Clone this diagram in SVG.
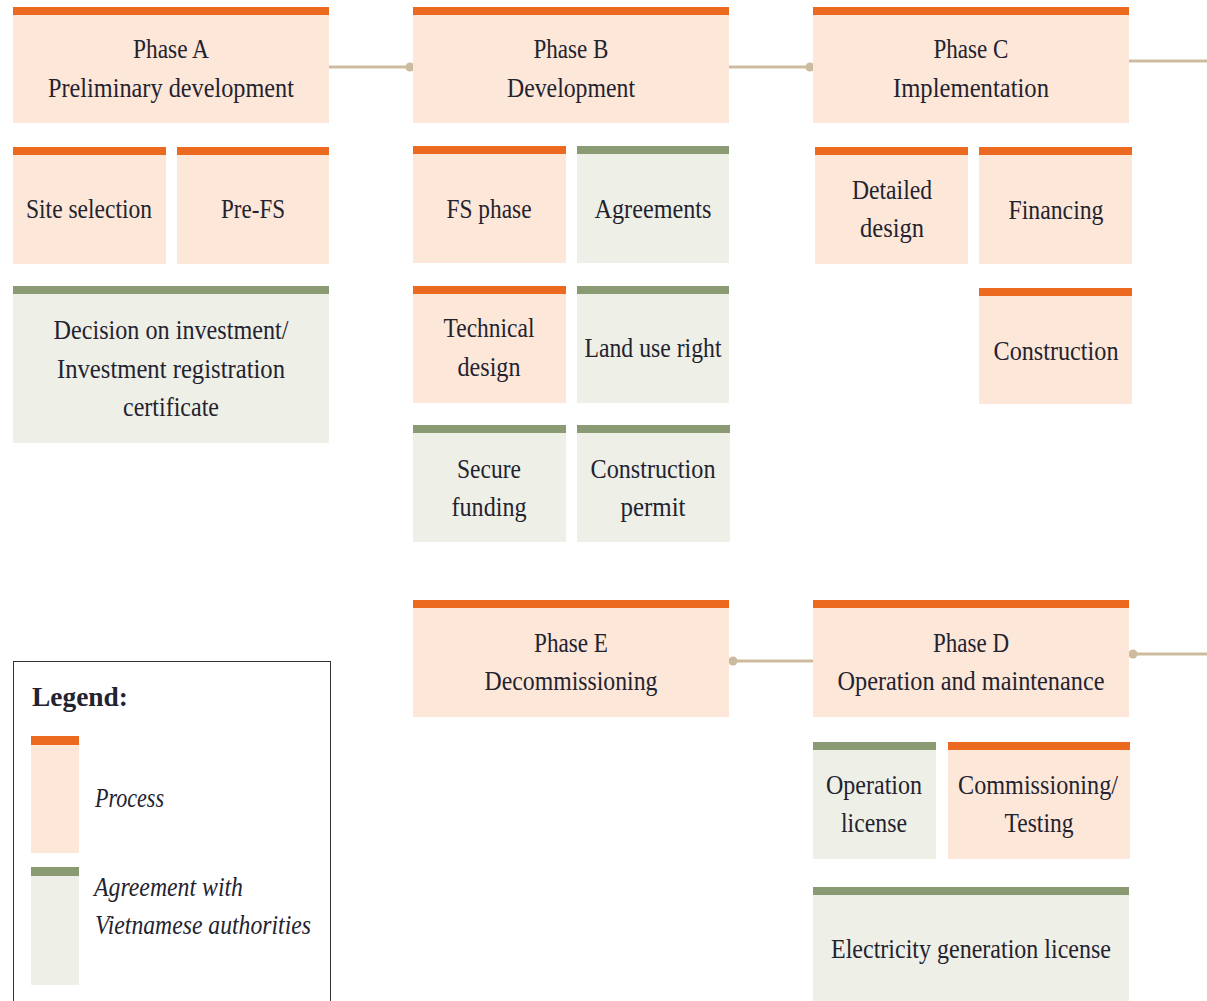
<svg xmlns="http://www.w3.org/2000/svg" width="1207" height="1001" viewBox="0 0 1207 1001">
<style>
.p{fill:#FDE7D9}.g{fill:#EEEFE7}.pb{fill:#EB6A1F}.gb{fill:#8A9B73}
text{font-family:"Liberation Serif","DejaVu Serif",serif;font-size:28px;fill:#23232F}
.c{text-anchor:middle}
.i{font-style:italic}
.b{font-weight:bold}
.ln{stroke:#CDBBA0;stroke-width:3;fill:none}
.dt{fill:#CDBBA0}
</style>
<rect width="1207" height="1001" fill="#fff"/>
<g id="connectors">
<line class="ln" x1="329" y1="67" x2="410" y2="67"/><circle class="dt" cx="410" cy="67" r="4.5"/>
<line class="ln" x1="729" y1="67" x2="810" y2="67"/><circle class="dt" cx="810" cy="67" r="4.5"/>
<line class="ln" x1="1129" y1="61" x2="1207" y2="61"/>
<line class="ln" x1="733" y1="661" x2="813" y2="661"/><circle class="dt" cx="733" cy="661" r="4.5"/>
<line class="ln" x1="1133" y1="654" x2="1207" y2="654"/><circle class="dt" cx="1133" cy="654" r="4.5"/>
</g>
<g id="phaseA"><rect class="p" x="13" y="7" width="316" height="116"/><rect class="pb" x="13" y="7" width="316" height="8"/>
<text class="c" x="171" y="58" textLength="76" lengthAdjust="spacingAndGlyphs">Phase A</text>
<text class="c" x="171" y="97" textLength="246" lengthAdjust="spacingAndGlyphs">Preliminary development</text></g>
<g id="phaseB"><rect class="p" x="413" y="7" width="316" height="116"/><rect class="pb" x="413" y="7" width="316" height="8"/>
<text class="c" x="571" y="58" textLength="75" lengthAdjust="spacingAndGlyphs">Phase B</text>
<text class="c" x="571" y="97" textLength="128" lengthAdjust="spacingAndGlyphs">Development</text></g>
<g id="phaseC"><rect class="p" x="813" y="7" width="316" height="116"/><rect class="pb" x="813" y="7" width="316" height="8"/>
<text class="c" x="971" y="58" textLength="75" lengthAdjust="spacingAndGlyphs">Phase C</text>
<text class="c" x="971" y="97" textLength="156" lengthAdjust="spacingAndGlyphs">Implementation</text></g>
<g id="siteSelection"><rect class="p" x="13" y="147" width="153" height="117"/><rect class="pb" x="13" y="147" width="153" height="8"/>
<text class="c" x="89" y="218" textLength="126" lengthAdjust="spacingAndGlyphs">Site selection</text></g>
<g id="preFS"><rect class="p" x="177" y="147" width="152" height="117"/><rect class="pb" x="177" y="147" width="152" height="8"/>
<text class="c" x="253" y="218" textLength="64" lengthAdjust="spacingAndGlyphs">Pre-FS</text></g>
<g id="decision"><rect class="g" x="13" y="286" width="316" height="157"/><rect class="gb" x="13" y="286" width="316" height="8"/>
<text class="c" x="171" y="339" textLength="235" lengthAdjust="spacingAndGlyphs">Decision on investment/</text>
<text class="c" x="171" y="378" textLength="228" lengthAdjust="spacingAndGlyphs">Investment registration</text>
<text class="c" x="171" y="416" textLength="96" lengthAdjust="spacingAndGlyphs">certificate</text></g>
<g id="fsPhase"><rect class="p" x="413" y="146" width="153" height="117"/><rect class="pb" x="413" y="146" width="153" height="8"/>
<text class="c" x="489" y="218" textLength="85" lengthAdjust="spacingAndGlyphs">FS phase</text></g>
<g id="agreements"><rect class="g" x="577" y="146" width="152" height="117"/><rect class="gb" x="577" y="146" width="152" height="8"/>
<text class="c" x="653" y="218" textLength="117" lengthAdjust="spacingAndGlyphs">Agreements</text></g>
<g id="technicalDesign"><rect class="p" x="413" y="286" width="153" height="117"/><rect class="pb" x="413" y="286" width="153" height="8"/>
<text class="c" x="489" y="337" textLength="91" lengthAdjust="spacingAndGlyphs">Technical</text>
<text class="c" x="489" y="376" textLength="63" lengthAdjust="spacingAndGlyphs">design</text></g>
<g id="landUseRight"><rect class="g" x="577" y="286" width="152" height="117"/><rect class="gb" x="577" y="286" width="152" height="8"/>
<text class="c" x="653" y="357" textLength="137" lengthAdjust="spacingAndGlyphs">Land use right</text></g>
<g id="secureFunding"><rect class="g" x="413" y="425" width="153" height="117"/><rect class="gb" x="413" y="425" width="153" height="8"/>
<text class="c" x="489" y="478" textLength="64" lengthAdjust="spacingAndGlyphs">Secure</text>
<text class="c" x="489" y="516" textLength="75" lengthAdjust="spacingAndGlyphs">funding</text></g>
<g id="constructionPermit"><rect class="g" x="577" y="425" width="153" height="117"/><rect class="gb" x="577" y="425" width="153" height="8"/>
<text class="c" x="653" y="478" textLength="125" lengthAdjust="spacingAndGlyphs">Construction</text>
<text class="c" x="653" y="516" textLength="65" lengthAdjust="spacingAndGlyphs">permit</text></g>
<g id="detailedDesign"><rect class="p" x="815" y="147" width="153" height="117"/><rect class="pb" x="815" y="147" width="153" height="8"/>
<text class="c" x="892" y="199" textLength="80" lengthAdjust="spacingAndGlyphs">Detailed</text>
<text class="c" x="892" y="237" textLength="64" lengthAdjust="spacingAndGlyphs">design</text></g>
<g id="financing"><rect class="p" x="979" y="147" width="153" height="117"/><rect class="pb" x="979" y="147" width="153" height="8"/>
<text class="c" x="1056" y="219" textLength="95" lengthAdjust="spacingAndGlyphs">Financing</text></g>
<g id="construction"><rect class="p" x="979" y="288" width="153" height="116"/><rect class="pb" x="979" y="288" width="153" height="8"/>
<text class="c" x="1056" y="360" textLength="125" lengthAdjust="spacingAndGlyphs">Construction</text></g>
<g id="phaseE"><rect class="p" x="413" y="600" width="316" height="117"/><rect class="pb" x="413" y="600" width="316" height="8"/>
<text class="c" x="571" y="652" textLength="74" lengthAdjust="spacingAndGlyphs">Phase E</text>
<text class="c" x="571" y="690" textLength="173" lengthAdjust="spacingAndGlyphs">Decommissioning</text></g>
<g id="phaseD"><rect class="p" x="813" y="600" width="316" height="117"/><rect class="pb" x="813" y="600" width="316" height="8"/>
<text class="c" x="971" y="652" textLength="76" lengthAdjust="spacingAndGlyphs">Phase D</text>
<text class="c" x="971" y="690" textLength="267" lengthAdjust="spacingAndGlyphs">Operation and maintenance</text></g>
<g id="operationLicense"><rect class="g" x="813" y="742" width="123" height="117"/><rect class="gb" x="813" y="742" width="123" height="8"/>
<text class="c" x="874" y="794" textLength="96" lengthAdjust="spacingAndGlyphs">Operation</text>
<text class="c" x="874" y="832" textLength="66" lengthAdjust="spacingAndGlyphs">license</text></g>
<g id="commissioning"><rect class="p" x="948" y="742" width="182" height="117"/><rect class="pb" x="948" y="742" width="182" height="8"/>
<text class="c" x="1038" y="794" textLength="160" lengthAdjust="spacingAndGlyphs">Commissioning/</text>
<text class="c" x="1039" y="832" textLength="69" lengthAdjust="spacingAndGlyphs">Testing</text></g>
<g id="electricityLicense"><rect class="g" x="813" y="887" width="316" height="114"/><rect class="gb" x="813" y="887" width="316" height="8"/>
<text class="c" x="971" y="958" textLength="280" lengthAdjust="spacingAndGlyphs">Electricity generation license</text></g>
<g id="legend"><rect x="13.5" y="661.5" width="317" height="350" fill="#fff" stroke="#333" stroke-width="1"/>
<text class="b" x="32" y="706" textLength="96" lengthAdjust="spacingAndGlyphs">Legend:</text>
<rect class="p" x="31" y="736" width="48" height="117"/><rect class="pb" x="31" y="736" width="48" height="9"/>
<text class="i" x="95" y="807" textLength="69" lengthAdjust="spacingAndGlyphs">Process</text>
<rect class="g" x="31" y="867" width="48" height="118"/><rect class="gb" x="31" y="867" width="48" height="9"/>
<text class="i" x="94" y="896" textLength="149" lengthAdjust="spacingAndGlyphs">Agreement with</text>
<text class="i" x="95" y="934" textLength="216" lengthAdjust="spacingAndGlyphs">Vietnamese authorities</text></g>
</svg>
